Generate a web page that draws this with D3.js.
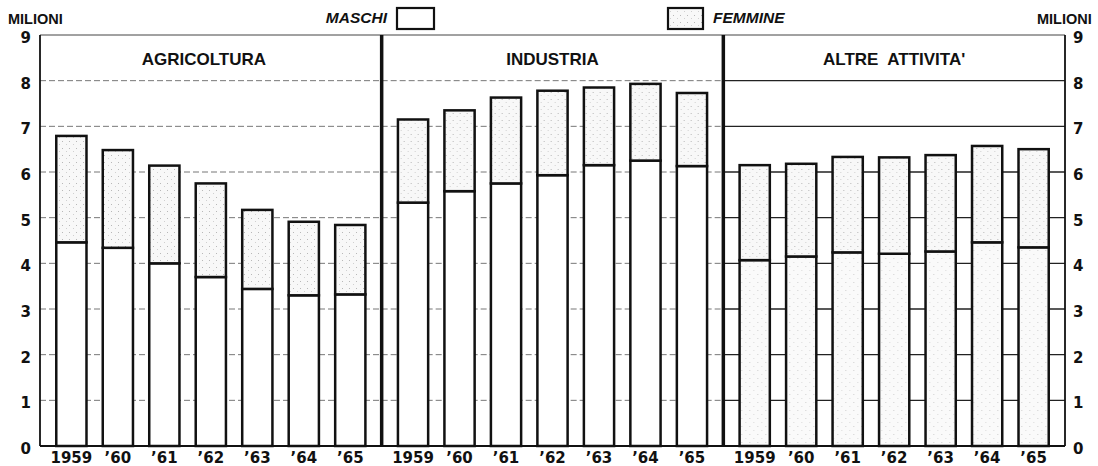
<!DOCTYPE html>
<html>
<head>
<meta charset="utf-8">
<script src="https://cdn.jsdelivr.net/npm/d3@7"></script>
<style>
  body { margin: 0; background: #fff; }
  svg text { fill: #111; }
</style>
</head>
<body>
<div id="chart"></div>
<script>
// dati (milioni di occupati)
const anni = ["1959", "\u201960", "\u201961", "\u201962", "\u201963", "\u201964", "\u201965"];
const settori = ["AGRICOLTURA", "INDUSTRIA", "ALTRE  ATTIVITA'"];
const agricolturaMaschi = [4.46, 4.34, 4.00, 3.70, 3.44, 3.30, 3.32];
const agricolturaFemmine = [2.33, 2.14, 2.14, 2.05, 1.73, 1.61, 1.52];
const industriaMaschi = [5.33, 5.58, 5.75, 5.93, 6.15, 6.25, 6.13];
const industriaFemmine = [1.82, 1.77, 1.88, 1.85, 1.70, 1.68, 1.60];
const altreMaschi = [4.07, 4.15, 4.24, 4.21, 4.26, 4.46, 4.35];
const altreFemmine = [2.08, 2.03, 2.09, 2.11, 2.11, 2.11, 2.15];
const yTicks = [0, 1, 2, 3, 4, 5, 6, 7, 8, 9];

const maschi = [agricolturaMaschi, industriaMaschi, altreMaschi];
const femmine = [agricolturaFemmine, industriaFemmine, altreFemmine];

const width = 1098, height = 466;
const mLeft = 40, mRight = 1065, mTop = 35, mBottom = 446;

const svg = d3.select("#chart").append("svg")
  .attr("width", width)
  .attr("height", height);

// pattern puntinato per le femmine
const defs = svg.append("defs");
const pat = defs.append("pattern")
  .attr("id", "punti")
  .attr("width", 7).attr("height", 7)
  .attr("patternUnits", "userSpaceOnUse");
pat.append("rect").attr("width", 7).attr("height", 7).attr("fill", "#f8f8f8");
pat.append("rect").attr("x", 1).attr("y", 1).attr("width", 1).attr("height", 1).attr("fill", "#b8b8b8");
pat.append("rect").attr("x", 5).attr("y", 4).attr("width", 1).attr("height", 1).attr("fill", "#d0d0d0");

const pat2 = defs.append("pattern")
  .attr("id", "puntiChiari")
  .attr("width", 8).attr("height", 8)
  .attr("patternUnits", "userSpaceOnUse");
pat2.append("rect").attr("width", 8).attr("height", 8).attr("fill", "#fafafa");
pat2.append("rect").attr("x", 2).attr("y", 2).attr("width", 1).attr("height", 1).attr("fill", "#cfcfcf");
pat2.append("rect").attr("x", 6).attr("y", 6).attr("width", 1).attr("height", 1).attr("fill", "#dadada");

const y = d3.scaleLinear().domain([0, 9]).range([mBottom, mTop]);
const xPanel = d3.scaleBand().domain(settori).range([mLeft, mRight]);
const xAnno = d3.scaleBand().domain(anni).range([0, xPanel.bandwidth()]).padding(0.35);

// griglia
settori.forEach((s, i) => {
  const x0 = xPanel(s);
  svg.append("g")
    .selectAll("line")
    .data(yTicks.slice(1, -1))
    .enter()
    .append("line")
    .attr("x1", x0).attr("x2", x0 + xPanel.bandwidth())
    .attr("y1", d => y(d)).attr("y2", d => y(d))
    .style("stroke", i == 2 ? "#222" : "#777")
    .style("stroke-width", i == 2 ? 1.3 : 1)
    .style("stroke-dasharray", i == 2 ? null : "6,3");
});

// barre
settori.forEach((s, i) => {
  const g = svg.append("g").attr("transform", `translate(${xPanel(s)},0)`);
  const dati = anni.map((a, j) => ({ anno: a, m: maschi[i][j], f: femmine[i][j] }));

  g.selectAll(".maschi")
    .data(dati)
    .enter()
    .append("rect")
    .attr("class", "maschi")
    .attr("x", d => xAnno(d.anno))
    .attr("width", xAnno.bandwidth())
    .attr("y", d => y(d.m))
    .attr("height", d => y(0) - y(d.m))
    .style("fill", i == 2 ? "url(#puntiChiari)" : "#fff")
    .style("stroke", "#111")
    .style("stroke-width", 2.5);

  g.selectAll(".femmine")
    .data(dati)
    .enter()
    .append("rect")
    .attr("class", "femmine")
    .attr("x", d => xAnno(d.anno))
    .attr("width", xAnno.bandwidth())
    .attr("y", d => y(d.m + d.f))
    .attr("height", d => y(d.m) - y(d.m + d.f))
    .style("fill", "url(#punti)")
    .style("stroke", "#111")
    .style("stroke-width", 2.5);

  // titolo del settore
  svg.append("text")
    .attr("x", xPanel(s) + xPanel.bandwidth() / 2 + (i == 0 ? -7 : 0))
    .attr("y", 65)
    .attr("text-anchor", "middle")
    .style("font-family", "Liberation Sans, Arial, sans-serif")
    .style("font-weight", "bold")
    .style("font-size", "17px")
    .style("white-space", "pre")
    .text(s);

  // etichette anni
  g.selectAll(".anno")
    .data(anni)
    .enter()
    .append("text")
    .attr("x", d => xAnno(d) + xAnno.bandwidth() / 2)
    .attr("y", 463)
    .attr("text-anchor", "middle")
    .style("font-family", "DejaVu Sans, sans-serif")
    .style("font-weight", "bold")
    .style("font-size", "15px")
    .text(d => d);
});

// cornice
svg.append("line").attr("x1", mLeft).attr("x2", mRight).attr("y1", mTop).attr("y2", mTop)
  .style("stroke", "#444").style("stroke-width", 1);
svg.append("line").attr("x1", mLeft).attr("x2", mRight).attr("y1", mBottom).attr("y2", mBottom)
  .style("stroke", "#111").style("stroke-width", 2);
svg.append("line").attr("x1", mLeft).attr("x2", mLeft).attr("y1", mTop).attr("y2", mBottom)
  .style("stroke", "#111").style("stroke-width", 1.8);
svg.append("line").attr("x1", mRight).attr("x2", mRight).attr("y1", mTop).attr("y2", mBottom)
  .style("stroke", "#111").style("stroke-width", 1.8);
settori.slice(1).forEach(s => {
  svg.append("line")
    .attr("x1", xPanel(s)).attr("x2", xPanel(s))
    .attr("y1", mTop).attr("y2", mBottom)
    .style("stroke", "#111").style("stroke-width", 3.5);
});

// assi verticali
const axisLeft = d3.axisLeft(y).tickValues(yTicks).tickSize(0).tickPadding(9);
const axisRight = d3.axisRight(y).tickValues(yTicks).tickSize(0).tickPadding(8);
[svg.append("g").attr("transform", `translate(${mLeft},0)`).call(axisLeft),
 svg.append("g").attr("transform", `translate(${mRight},0)`).call(axisRight)].forEach(a => {
  a.select(".domain").remove();
  a.selectAll("text")
    .attr("dy", "0.5em")
    .style("font-family", "DejaVu Sans, sans-serif")
    .style("font-weight", "bold")
    .style("font-size", "15px")
    .style("fill", "#111");
});

// unità di misura
svg.append("text").attr("x", 8).attr("y", 24)
  .style("font-family", "Liberation Sans, Arial, sans-serif")
  .style("font-weight", "bold").style("font-size", "14.5px")
  .text("MILIONI");
svg.append("text").attr("x", 1037).attr("y", 24)
  .style("font-family", "Liberation Sans, Arial, sans-serif")
  .style("font-weight", "bold").style("font-size", "14.5px")
  .text("MILIONI");

// legenda
svg.append("text").attr("x", 387).attr("y", 23).attr("text-anchor", "end")
  .style("font-family", "Liberation Sans, Arial, sans-serif")
  .style("font-weight", "bold").style("font-style", "italic").style("font-size", "15.5px")
  .text("MASCHI");
svg.append("rect").attr("x", 397).attr("y", 8).attr("width", 37).attr("height", 21)
  .style("fill", "#fff").style("stroke", "#111").style("stroke-width", 2.2);
svg.append("rect").attr("x", 668).attr("y", 8).attr("width", 35).attr("height", 21)
  .style("fill", "url(#punti)").style("stroke", "#111").style("stroke-width", 2.2);
svg.append("text").attr("x", 713).attr("y", 23)
  .style("font-family", "Liberation Sans, Arial, sans-serif")
  .style("font-weight", "bold").style("font-style", "italic").style("font-size", "15.5px")
  .text("FEMMINE");
</script>
</body>
</html>
